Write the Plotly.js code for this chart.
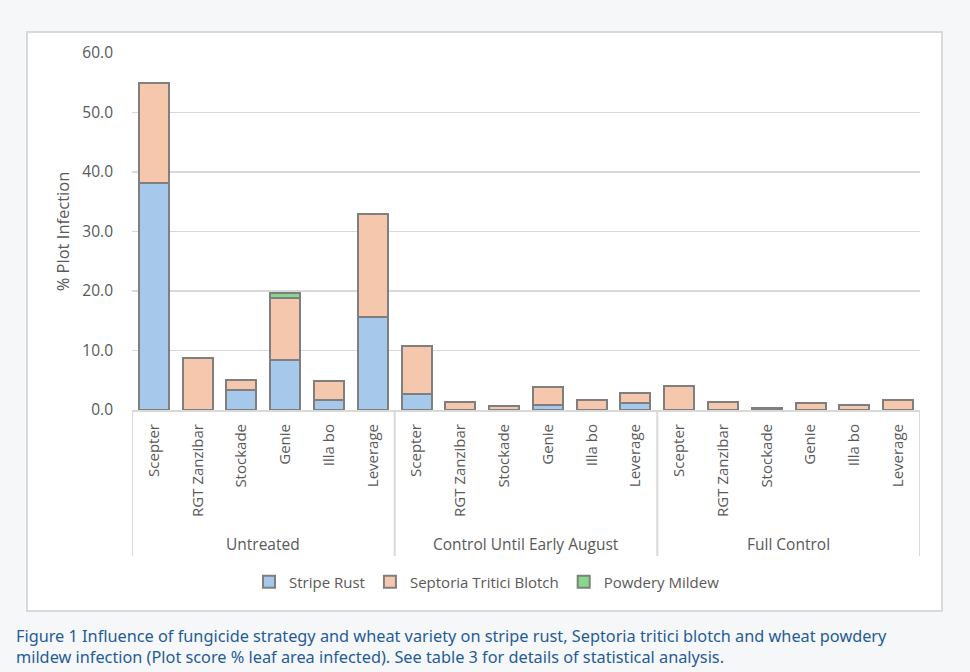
<!DOCTYPE html>
<html>
<head>
<meta charset="utf-8">
<script src="https://cdn.plot.ly/plotly-3.0.1.min.js"></script>
<style>html,body{margin:0;padding:0;background:#f6f7f8;}#chart{width:970px;height:672px;}</style>
</head>
<body>
<div id="chart"></div>
<script>
var groups = ["Untreated", "Control Until Early August", "Full Control"];
var varieties = ["Scepter", "RGT Zanzibar", "Stockade", "Genie", "Illa bo", "Leverage"];
var stripeRust = [38.2, 0, 3.4, 8.4, 1.7, 15.7,   2.7, 0, 0, 0.8, 0, 1.1,   0, 0, 0, 0, 0, 0];
var septoria   = [16.8, 8.7, 1.7, 10.5, 3.1, 17.3,   8.1, 1.4, 0.7, 3.1, 1.7, 1.8,   4.1, 1.4, 0.4, 1.1, 0.9, 1.7];
var powdery    = [0, 0, 0, 0.8, 0, 0,   0, 0, 0, 0, 0, 0,   0, 0, 0, 0, 0, 0];
var seriesNames = ["Stripe Rust", "Septoria Tritici Blotch", "Powdery Mildew"];
var colors = ["#a6c8ea", "#f5c7ac", "#86d98b"];
var yTicks = [0, 10, 20, 30, 40, 50, 60];
var caption = "Figure 1 Influence of fungicide strategy and wheat variety on stripe rust, Septoria tritici blotch and wheat powdery<br>mildew infection (Plot score % leaf area infected). See table 3 for details of statistical analysis.";

var xIdx = [], tickText = [];
groups.forEach(function(g, gi){
  varieties.forEach(function(v, vi){ xIdx.push(gi*varieties.length + vi); tickText.push(v); });
});
var data = [stripeRust, septoria, powdery].map(function(vals, i){
  return {type:"bar", x:xIdx, y:vals, name:seriesNames[i],
    marker:{color:colors[i], line:{color:"#7f7f7f", width:2}}};
});

var font = "Open Sans, Liberation Sans, sans-serif";
var plotTop = 53, plotBottom = 410, plotL = 132, plotR = 920;
var ph = plotBottom - plotTop, pw = plotR - plotL;
function py(pix){ return (plotBottom - pix)/ph; }
function px(pix){ return (pix - plotL)/pw; }

var shapes = [
  {type:"rect", xref:"paper", yref:"paper", x0:px(27), x1:px(942), y0:py(611), y1:py(32),
   fillcolor:"#ffffff", line:{color:"#d9d9d9", width:2}, layer:"below"}
];
var annotations = [];
var n = varieties.length;
for (var g = 0; g <= groups.length; g++) {
  shapes.push({type:"line", xref:"x", yref:"paper", x0:g*n-0.5, x1:g*n-0.5, y0:0, y1:py(556),
    line:{color:"#d9d9d9", width:2}});
}
groups.forEach(function(gname, gi){
  annotations.push({xref:"x", yref:"paper", x:gi*n + (n-1)/2, y:py(544), text:gname, showarrow:false,
    xanchor:"center", yanchor:"middle", font:{family:font, size:15.5, color:"#595959"}});
});
annotations.push({xref:"paper", yref:"paper", x:px(14), y:py(623), xanchor:"left", yanchor:"top", align:"left",
  text:caption, showarrow:false, font:{family:"Noto Sans, Open Sans, sans-serif", size:16.3, color:"#1f5c99"}});

var layout = {
  width:970, height:672,
  margin:{l:plotL, r:970-plotR, t:plotTop, b:672-plotBottom},
  paper_bgcolor:"#f6f7f8", plot_bgcolor:"rgba(0,0,0,0)",
  barmode:"stack", bargap:0.315,
  font:{family:font, color:"#595959"},
  xaxis:{range:[-0.5, groups.length*n-0.5], tickvals:xIdx, ticktext:tickText, tickangle:-90,
    showgrid:false, zeroline:false, showline:true, linecolor:"#d9d9d9", linewidth:2,
    ticks:"", tickfont:{family:font, size:15, color:"#595959"}, ticklabelstandoff:6, fixedrange:true},
  yaxis:{range:[0,60], tickvals:yTicks, tickformat:".1f", showgrid:true, gridcolor:"#d9d9d9", gridwidth:1.5,
    zeroline:false, showline:false, ticks:"", tickfont:{family:font, size:15.5, color:"#595959"},
    ticklabelstandoff:18,
    title:{text:"% Plot Infection", font:{family:font, size:16.5, color:"#595959"}, standoff:8}},
  legend:{orientation:"h", x:px(487), xanchor:"center", y:py(582), yanchor:"middle",
    font:{family:font, size:15, color:"#595959"}, bgcolor:"rgba(0,0,0,0)", traceorder:"normal",
    itemwidth:30},
  shapes:shapes, annotations:annotations, showlegend:true
};
Plotly.newPlot("chart", data, layout, {displayModeBar:false, staticPlot:true});
</script>
</body>
</html>
